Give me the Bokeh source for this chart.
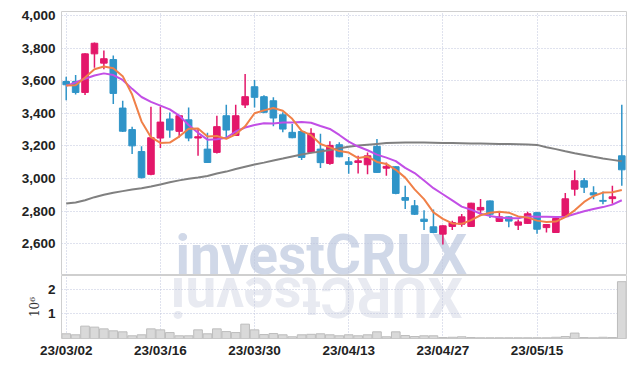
import math
from bokeh.plotting import figure
from bokeh.layouts import column
from bokeh.models import (ColumnDataSource, FixedTicker, NumeralTickFormatter,
                          CustomJSTickFormatter, Grid, Label, Range1d)
from bokeh.embed import file_html
from bokeh.resources import INLINE

# ---------------- data ----------------
dates = ["23/03/02", "23/03/03", "23/03/06", "23/03/07", "23/03/08", "23/03/09", "23/03/10",
         "23/03/13", "23/03/14", "23/03/15", "23/03/16", "23/03/17", "23/03/20", "23/03/21",
         "23/03/22", "23/03/23", "23/03/24", "23/03/27", "23/03/28", "23/03/29", "23/03/30",
         "23/03/31", "23/04/03", "23/04/04", "23/04/05", "23/04/06", "23/04/07", "23/04/10",
         "23/04/11", "23/04/12", "23/04/13", "23/04/14", "23/04/17", "23/04/18", "23/04/19",
         "23/04/20", "23/04/21", "23/04/24", "23/04/25", "23/04/26", "23/04/27", "23/04/28",
         "23/05/02", "23/05/03", "23/05/04", "23/05/08", "23/05/09", "23/05/10", "23/05/11",
         "23/05/12", "23/05/15", "23/05/16", "23/05/17", "23/05/18", "23/05/19", "23/05/22",
         "23/05/23", "23/05/24", "23/05/25", "23/05/26"]

opens = [3595, 3595, 3528, 3765, 3708, 3730, 3432, 3300, 3165, 3025,
         3248, 3365, 3289, 3360, 3248, 3180, 3160, 3385, 3264, 3451,
         3563, 3502, 3477, 3391, 3283, 3288, 3160, 3180, 3092, 3207,
         3102, 3098, 3084, 3197, 3063, 3072, 2883, 2832, 2750, 2703,
         2658, 2705, 2719, 2705, 2806, 2862, 2736, 2764, 2713, 2724,
         2790, 2698, 2668, 2765, 2934, 2986, 2912, 2865, 2876, 3139]
highs = [3625, 3635, 3768, 3835, 3785, 3755, 3477, 3318, 3198, 3440,
         3440, 3405, 3390, 3435, 3303, 3280, 3385, 3453, 3453, 3641,
         3605, 3510, 3498, 3406, 3335, 3290, 3308, 3275, 3228, 3222,
         3132, 3139, 3160, 3242, 3098, 3075, 2955, 2868, 2805, 2810,
         2712, 2740, 2781, 2850, 2873, 2865, 2800, 2766, 2748, 2795,
         2792, 2720, 2762, 2910, 3051, 3002, 2952, 2920, 2955, 3452]
lows = [3480, 3515, 3512, 3680, 3670, 3457, 3285, 3150, 3000, 3020,
        3187, 3250, 3252, 3228, 3139, 3095, 3153, 3248, 3260, 3432,
        3435, 3400, 3320, 3283, 3246, 3113, 3155, 3064, 3084, 3130,
        3028, 3030, 3025, 3035, 3016, 2903, 2812, 2775, 2683, 2664,
        2595, 2683, 2703, 2703, 2775, 2757, 2733, 2700, 2683, 2720,
        2660, 2668, 2666, 2763, 2893, 2910, 2872, 2842, 2844, 2955]
closes = [3575, 3528, 3765, 3830, 3735, 3522, 3290, 3200, 3005, 3250,
          3346, 3297, 3385, 3248, 3256, 3098, 3318, 3297, 3385, 3502,
          3498, 3406, 3371, 3303, 3250, 3129, 3277, 3097, 3203, 3133,
          3086, 3108, 3139, 3037, 3074, 2908, 2866, 2780, 2736, 2668,
          2709, 2729, 2764, 2848, 2822, 2780, 2764, 2738, 2733, 2783,
          2688, 2717, 2754, 2875, 2986, 2946, 2898, 2860, 2887, 3053]
volumes = [190000, 150000, 500000, 460000, 390000, 310000, 270000, 110000, 150000, 390000,
           350000, 240000, 110000, 110000, 350000, 190000, 390000, 280000, 240000, 580000,
           350000, 160000, 200000, 150000, 70000, 150000, 170000, 190000, 150000, 110000,
           150000, 110000, 150000, 270000, 70000, 270000, 120000, 80000, 110000, 110000,
           40000, 50000, 70000, 40000, 30000, 30000, 30000, 30000, 30000, 30000,
           30000, 30000, 50000, 80000, 220000, 40000, 30000, 50000, 40000, 2300000]
ma5 = [3570, 3572, 3620, 3670, 3687, 3676, 3628, 3515, 3350, 3253,
       3218, 3220, 3257, 3305, 3306, 3257, 3261, 3243, 3271, 3320,
       3400, 3418, 3432, 3416, 3366, 3292, 3266, 3211, 3191, 3168,
       3159, 3125, 3134, 3101, 3089, 3053, 3005, 2933, 2873, 2792,
       2752, 2724, 2721, 2744, 2774, 2789, 2796, 2790, 2767, 2760,
       2741, 2732, 2735, 2763, 2804, 2856, 2892, 2913, 2915, 2929]
ma10 = [3568, 3590, 3612, 3632, 3645, 3635, 3605, 3550, 3500, 3470,
        3447, 3424, 3386, 3328, 3280, 3238, 3240, 3250, 3288, 3313,
        3328, 3339, 3338, 3343, 3343, 3346, 3342, 3322, 3304, 3267,
        3226, 3196, 3173, 3146, 3128, 3106, 3065, 3033, 2987, 2940,
        2903, 2865, 2827, 2808, 2783, 2770, 2760, 2756, 2756, 2767,
        2765, 2764, 2763, 2765, 2782, 2798, 2812, 2824, 2839, 2866]
ma_long = [2846, 2852, 2866, 2885, 2900, 2912, 2922, 2932, 2940, 2950,
           2963, 2976, 2988, 2998, 3006, 3015, 3030, 3042, 3058, 3072,
           3085, 3097, 3110, 3122, 3135, 3147, 3157, 3166, 3175, 3185,
           3194, 3202, 3207, 3212, 3217, 3219, 3221, 3221, 3220, 3219,
           3218, 3217, 3216, 3215, 3214, 3213, 3212, 3211, 3210, 3209,
           3206, 3192, 3180, 3167, 3155, 3144, 3133, 3123, 3114, 3105]
price_ticks = [2600, 2800, 3000, 3200, 3400, 3600, 3800, 4000]
volume_ticks = [1000000, 2000000]
date_tick_idx = [0, 10, 20, 30, 40, 50]
watermark = "investCRUX"

# ---------------- style ----------------
UP = "#E3176A"
DOWN = "#2F94C8"
FONT = "Liberation Sans"
WM_FONT = "Roboto"
GRID = "#BEC5DC"
OUTLINE = "#CFCFCF"
PRICE_LO, PRICE_HI = 2404, 4025
VOL_HI = 2550000

xs = list(range(len(dates)))
src = ColumnDataSource(dict(
    x=xs, open=opens, close=closes, high=highs, low=lows,
    top=[max(o, c) for o, c in zip(opens, closes)],
    bottom=[min(o, c) for o, c in zip(opens, closes)],
    color=[UP if c >= o else DOWN for o, c in zip(opens, closes)],
    vol=volumes, ma5=ma5, ma10=ma10, ma_long=ma_long,
))

x_range = Range1d(-0.5, 59.5)

p = figure(width=628, height=275, x_range=x_range, y_range=Range1d(PRICE_LO, PRICE_HI),
           output_backend="svg", toolbar_location=None, tools="",
           x_axis_location=None, min_border_left=61, min_border_right=2,
           min_border_top=11, min_border_bottom=0)
p.outline_line_color = OUTLINE
p.background_fill_color = "white"
p.border_fill_color = "white"

ya = p.yaxis[0]
ya.ticker = FixedTicker(ticks=price_ticks)
ya.formatter = NumeralTickFormatter(format="0,0")
ya.axis_line_color = None
ya.major_tick_line_color = None
ya.minor_tick_line_color = None
ya.major_tick_out = 0
ya.major_tick_in = 0
ya.major_label_text_font = FONT
ya.major_label_text_font_style = "bold"
ya.major_label_text_font_size = "13.5px"
ya.major_label_text_color = "#222222"
ya.major_label_standoff = 6

p.ygrid.grid_line_color = GRID
p.ygrid.grid_line_dash = "1 2"
p.ygrid.grid_line_width = 1
for g in p.xgrid:
    g.visible = False
p.add_layout(Grid(dimension=0, ticker=FixedTicker(ticks=date_tick_idx),
                  grid_line_color=GRID, grid_line_dash="1 2", grid_line_width=1))

p.add_layout(Label(x=11.6, y=PRICE_LO, y_offset=-11, text=watermark,
                   text_font=WM_FONT, text_font_style="bold", text_font_size="55px",
                   text_color="#D0D8E8", text_baseline="bottom", text_align="left",
                   level="image"))

p.segment(x0="x", y0="high", x1="x", y1="low", color="color", line_width=1.5, source=src)
p.vbar(x="x", width=0.7, top="top", bottom="bottom", fill_color="color",
       line_color="color", line_width=1, source=src)
p.line("x", "ma_long", color="#808080", line_width=2, source=src)
p.line("x", "ma10", color="#C24FE6", line_width=2, source=src)
p.line("x", "ma5", color="#F08048", line_width=2, source=src)

# ---------------- volume ----------------
v = figure(width=628, height=85, x_range=x_range, y_range=Range1d(0, VOL_HI),
           output_backend="svg", toolbar_location=None, tools="",
           min_border_left=61, min_border_right=2, min_border_top=0, min_border_bottom=0)
v.outline_line_color = OUTLINE
v.border_fill_color = "white"

xa = v.xaxis[0]
xa.ticker = FixedTicker(ticks=date_tick_idx)
xa.major_label_overrides = {i: dates[i] for i in date_tick_idx}
xa.axis_line_color = None
xa.major_tick_line_color = None
xa.minor_tick_line_color = None
xa.major_tick_out = 0
xa.major_tick_in = 0
xa.major_label_text_font = FONT
xa.major_label_text_font_style = "bold"
xa.major_label_text_font_size = "13.5px"
xa.major_label_text_color = "#222222"
xa.major_label_standoff = 4

vy = v.yaxis[0]
vy.ticker = FixedTicker(ticks=volume_ticks)
vy.formatter = CustomJSTickFormatter(code="return (tick / 1e6).toFixed(0);")
vy.axis_line_color = None
vy.major_tick_line_color = None
vy.minor_tick_line_color = None
vy.major_tick_out = 0
vy.major_tick_in = 0
vy.major_label_text_font = FONT
vy.major_label_text_font_style = "bold"
vy.major_label_text_font_size = "13.5px"
vy.major_label_text_color = "#222222"
vy.major_label_standoff = 6
vy.axis_label = "10\u2076"
vy.axis_label_text_font = "DejaVu Serif"
vy.axis_label_text_font_style = "normal"
vy.axis_label_text_font_size = "12px"
vy.axis_label_text_color = "#333333"
vy.axis_label_standoff = 3

v.xgrid.grid_line_color = GRID
v.xgrid.grid_line_dash = "1 2"
v.ygrid.grid_line_color = GRID
v.ygrid.grid_line_dash = "1 2"

# mirrored watermark (reflection under the price panel)
v.add_layout(Label(x=42.1, y=VOL_HI, y_offset=11, text=watermark[::-1], angle=math.pi,
                   text_font=WM_FONT, text_font_style="bold", text_font_size="55px",
                   text_color="#E8EAF1", text_baseline="bottom", text_align="left",
                   level="image"))

v.vbar(x="x", top="vol", width=0.92, fill_color="#D9D9D9", line_color="#BDBDBD",
       line_width=1, source=src)

layout = column(p, v, spacing=0)
open("out.html", "w").write(file_html(layout, INLINE))
